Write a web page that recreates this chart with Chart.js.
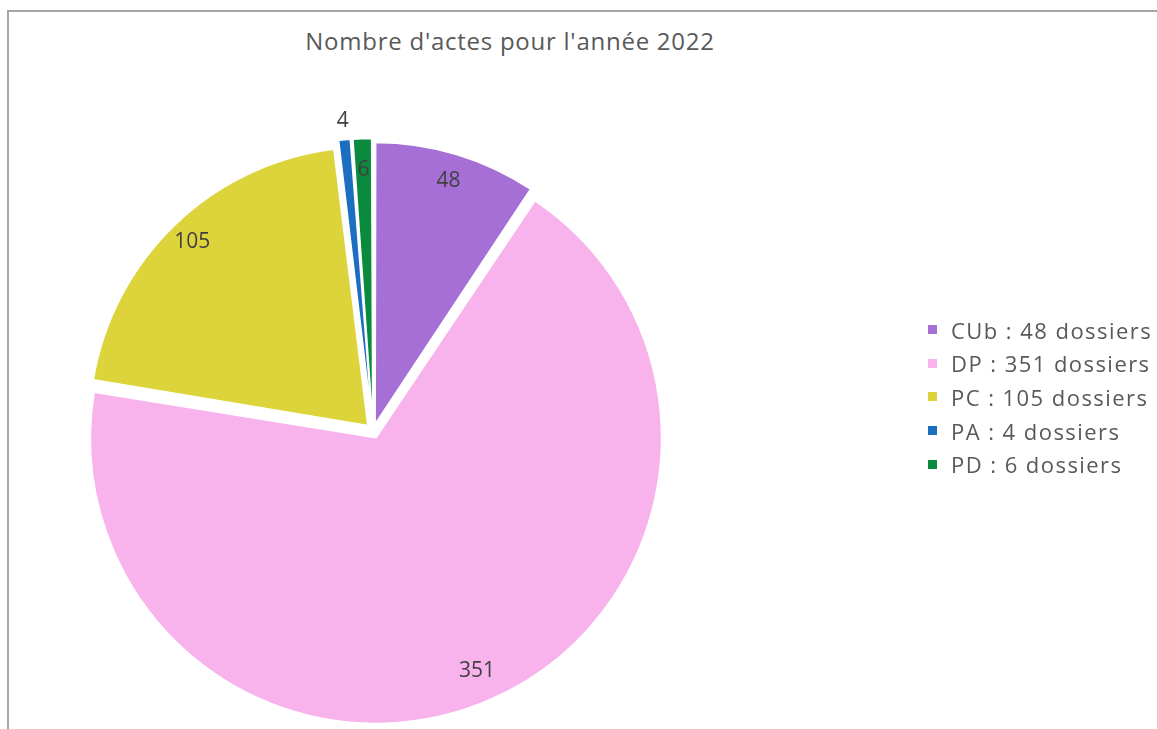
<!DOCTYPE html>
<html lang="fr">
<head>
<meta charset="utf-8">
<title>Nombre d'actes pour l'année 2022</title>
<script src="https://cdn.jsdelivr.net/npm/chart.js@4.4.1/dist/chart.umd.min.js"></script>
<style>
    html, body { margin: 0; padding: 0; background: #fff; }
    body { width: 1157px; height: 729px; position: relative; overflow: hidden; font-family: 'Open Sans', sans-serif; }
    .frame { position: absolute; left: 7px; top: 10px; width: 1200px; height: 800px; border-top: 2px solid #a6a6a6; border-left: 2px solid #a6a6a6; }
    #actesChart { position: absolute; left: 0; top: 0; }
    .chart-title { position: absolute; left: 0; top: 29px; width: 1020px; text-align: center; font-size: 24px; line-height: 24px; letter-spacing: 0.75px; color: #595959; }
    #actesLegend { position: absolute; left: 928px; top: 313px; width: 260px; margin: 0; padding: 0; list-style: none; }
    #actesLegend li { display: flex; align-items: center; height: 33.6px; font-size: 22px; letter-spacing: 1.45px; color: #595959; white-space: nowrap; }
    #actesLegend .swatch { width: 9px; height: 9px; margin-right: 14px; flex: none; }
</style>
</head>
<body>
<div class="frame"></div>
<div class="chart-title">Nombre d'actes pour l'année 2022</div>
<canvas id="actesChart" width="1157" height="729"></canvas>
<ul id="actesLegend"></ul>

<script>
/* ========================================================================
   Actes d'urbanisme 2022 - répartition par type de dossier
   ======================================================================== */

const categories = ['CUb', 'DP', 'PC', 'PA', 'PD'];
const values = [48, 351, 105, 4, 6];
const sliceColors = ['#a66fd5', '#f8b2ec', '#dcd43a', '#1c6fc0', '#0a8a3c'];
const outsideLabels = ['PA'];   // slices too thin to hold their value

// Value written on each slice, pushed outside for the thin ones
const sliceLabels = {
    id: 'sliceLabels',
    afterDatasetsDraw(chart) {
        const ctx = chart.ctx;
        const meta = chart.getDatasetMeta(0);
        ctx.save();
        ctx.font = '21px "Open Sans"';
        ctx.fillStyle = '#404040';
        ctx.textAlign = 'center';
        ctx.textBaseline = 'middle';
        meta.data.forEach((arc, i) => {
            const { x, y, startAngle, endAngle, outerRadius } = arc.getProps(['x', 'y', 'startAngle', 'endAngle', 'outerRadius'], true);
            const mid = (startAngle + endAngle) / 2;
            const dist = outsideLabels.includes(categories[i]) ? outerRadius + 33 : outerRadius * 0.94;
            ctx.fillText(String(values[i]), x + Math.cos(mid) * dist, y + Math.sin(mid) * dist);
        });
        ctx.restore();
    }
};

const chart = new Chart(document.getElementById('actesChart'), {
    type: 'pie',
    data: {
        labels: categories,
        datasets: [{
            data: values,
            backgroundColor: sliceColors,
            borderColor: '#ffffff',
            borderWidth: 1.5,
            offset: 30,
            clip: false
        }]
    },
    options: {
        responsive: false,
        animation: false,
        radius: 278,
        layout: { padding: { left: 0, right: 411, top: 133, bottom: 0 } },
        plugins: {
            legend: { display: false },
            title: { display: false },
            tooltip: { enabled: false }
        }
    },
    plugins: [sliceLabels]
});

// Legend list built from the chart's own legend items
function renderLegend(chart) {
    const ul = document.getElementById('actesLegend');
    const items = chart.options.plugins.legend.labels.generateLabels(chart);
    ul.innerHTML = items.map(item => `<li><span class="swatch" style="background:${item.fillStyle}"></span><span>${item.text} : ${values[item.index]} dossiers</span></li>`).join('');
}

renderLegend(chart);
</script>
</body>
</html>
